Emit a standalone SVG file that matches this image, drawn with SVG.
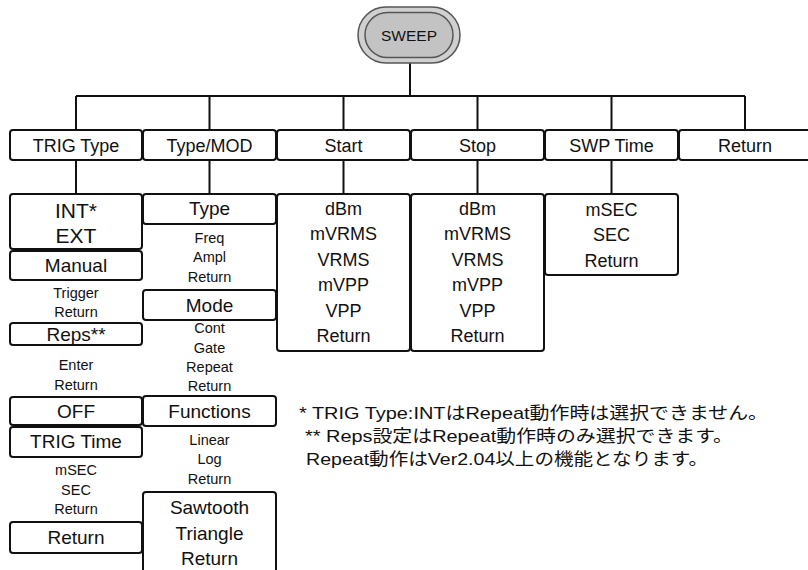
<svg xmlns="http://www.w3.org/2000/svg" width="808" height="570" viewBox="0 0 808 570">
<style>
text{font-family:"Liberation Sans","Noto Sans CJK JP",sans-serif;fill:#111;text-anchor:middle}
.box{fill:#fff;stroke:#111;stroke-width:2}
.ln{stroke:#111;stroke-width:2;fill:none}
.t19{font-size:19px}
.t18{font-size:18px}
.t21{font-size:21px}
.s{font-size:14.5px}
.note{font-size:17px;text-anchor:start}
</style>
<rect width="808" height="570" fill="#fff"/>
<g id="connectors">
<path class="ln" d="M410 62V96M76 96H745M76 96V130M209.5 96V130M343.5 96V130M477.5 96V130M611.5 96V130M745 96V130"/>
<path class="ln" d="M76 160V194M209.5 160V194M343.5 160V194M477.5 160V194M611.5 160V194"/>
</g>
<g id="sweep">
<rect x="358" y="7" width="102" height="56" rx="28" fill="#d0d0d0" stroke="#555" stroke-width="1.5"/>
<rect x="365" y="12.5" width="88" height="45" rx="22.5" fill="#c3c3c3" stroke="#555" stroke-width="1.5"/>
<text x="409" y="41" style="font-size:15.5px">SWEEP</text>
</g>
<g id="trig-type"><rect class="box" x="10" y="130" width="132" height="30" rx="3"/><text class="t18" x="76" y="151.5">TRIG Type</text></g>
<g id="type-mod"><rect class="box" x="143" y="130" width="133" height="30" rx="3"/><text class="t18" x="209.5" y="151.5">Type/MOD</text></g>
<g id="start"><rect class="box" x="277" y="130" width="133" height="30" rx="3"/><text class="t18" x="343.5" y="151.5">Start</text></g>
<g id="stop"><rect class="box" x="411" y="130" width="133" height="30" rx="3"/><text class="t18" x="477.5" y="151.5">Stop</text></g>
<g id="swp-time"><rect class="box" x="545" y="130" width="133" height="30" rx="3"/><text class="t18" x="611.5" y="151.5">SWP Time</text></g>
<g id="return-top"><rect class="box" x="679" y="130" width="133" height="30" rx="3"/><text class="t18" x="745" y="151.5">Return</text></g>

<g id="int-ext"><rect class="box" x="10" y="194" width="132" height="55" rx="3"/><text class="t21" x="76" y="218">INT*</text><text class="t21" x="76" y="243">EXT</text></g>
<g id="manual"><rect class="box" x="10" y="251" width="132" height="29" rx="3"/><text class="t19" x="76" y="272">Manual</text></g>
<g id="manual-sub"><text class="s" x="76" y="298">Trigger</text><text class="s" x="76" y="317">Return</text></g>
<g id="reps"><rect class="box" x="10" y="323" width="132" height="22" rx="3"/><text class="t19" x="76" y="341">Reps**</text></g>
<g id="reps-sub"><text class="s" x="76" y="370">Enter</text><text class="s" x="76" y="390">Return</text></g>
<g id="off"><rect class="box" x="10" y="397" width="132" height="28" rx="3"/><text class="t19" x="76" y="418">OFF</text></g>
<g id="trig-time"><rect class="box" x="10" y="427" width="132" height="30" rx="3"/><text class="t19" x="76" y="448">TRIG Time</text></g>
<g id="trig-time-sub"><text class="s" x="76" y="475">mSEC</text><text class="s" x="76" y="495">SEC</text><text class="s" x="76" y="514">Return</text></g>
<g id="return-col1"><rect class="box" x="10" y="522" width="132" height="31" rx="3"/><text class="t19" x="76" y="544">Return</text></g>

<g id="type"><rect class="box" x="143" y="194" width="133" height="30" rx="3"/><text class="t19" x="209.5" y="215">Type</text></g>
<g id="type-sub"><text class="s" x="209.5" y="243">Freq</text><text class="s" x="209.5" y="262">Ampl</text><text class="s" x="209.5" y="282">Return</text></g>
<g id="mode"><rect class="box" x="143" y="290" width="133" height="30" rx="3"/><text class="t19" x="209.5" y="312">Mode</text></g>
<g id="mode-sub"><text class="s" x="209.5" y="333">Cont</text><text class="s" x="209.5" y="353">Gate</text><text class="s" x="209.5" y="372">Repeat</text><text class="s" x="209.5" y="391">Return</text></g>
<g id="functions"><rect class="box" x="143" y="396" width="133" height="30" rx="3"/><text class="t19" x="209.5" y="418">Functions</text></g>
<g id="functions-sub"><text class="s" x="209.5" y="445">Linear</text><text class="s" x="209.5" y="464">Log</text><text class="s" x="209.5" y="484">Return</text></g>
<g id="sawtooth"><rect class="box" x="143" y="492" width="133" height="90" rx="3"/><text class="t19" x="209.5" y="514">Sawtooth</text><text class="t19" x="209.5" y="540">Triangle</text><text class="t19" x="209.5" y="565">Return</text></g>

<g id="start-list"><rect class="box" x="277" y="194" width="133" height="157" rx="3"/>
<text class="t18" x="343.5" y="215">dBm</text><text class="t18" x="343.5" y="240">mVRMS</text><text class="t18" x="343.5" y="266">VRMS</text><text class="t18" x="343.5" y="291">mVPP</text><text class="t18" x="343.5" y="317">VPP</text><text class="t18" x="343.5" y="342">Return</text></g>
<g id="stop-list"><rect class="box" x="411" y="194" width="133" height="157" rx="3"/>
<text class="t18" x="477.5" y="215">dBm</text><text class="t18" x="477.5" y="240">mVRMS</text><text class="t18" x="477.5" y="266">VRMS</text><text class="t18" x="477.5" y="291">mVPP</text><text class="t18" x="477.5" y="317">VPP</text><text class="t18" x="477.5" y="342">Return</text></g>
<g id="swp-list"><rect class="box" x="545" y="194" width="133" height="81" rx="3"/>
<text class="t18" x="611.5" y="216">mSEC</text><text class="t18" x="611.5" y="241">SEC</text><text class="t18" x="611.5" y="267">Return</text></g>

<g id="notes">
<text class="note" x="299" y="419" textLength="469" lengthAdjust="spacingAndGlyphs">* TRIG Type:INTはRepeat動作時は選択できません。</text>
<text class="note" x="305" y="442" textLength="428" lengthAdjust="spacingAndGlyphs">** Reps設定はRepeat動作時のみ選択できます。</text>
<text class="note" x="306" y="465" textLength="402" lengthAdjust="spacingAndGlyphs">Repeat動作はVer2.04以上の機能となります。</text>
</g>
</svg>
